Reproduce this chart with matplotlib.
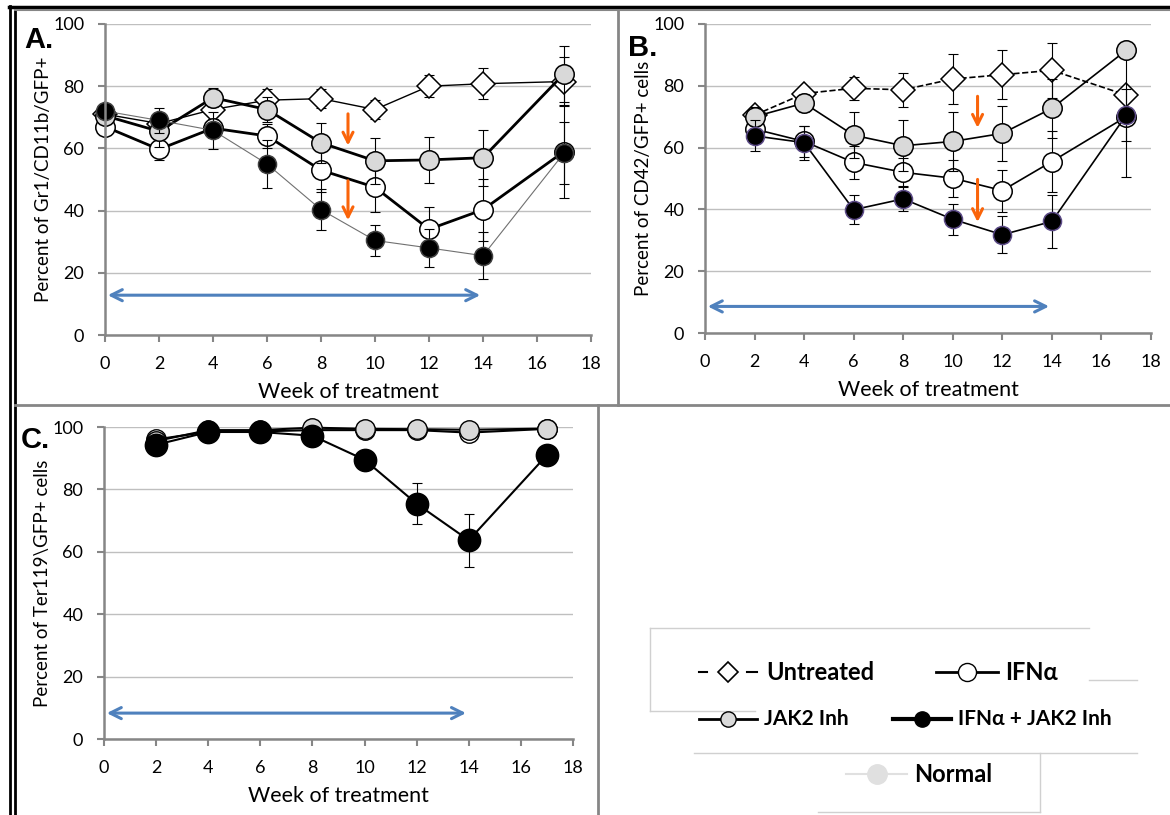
import matplotlib
matplotlib.use('Agg')
import matplotlib.pyplot as plt
from matplotlib.lines import Line2D

plt.rcParams['font.family'] = ['Lato', 'DejaVu Sans']

# ---- data ----
weeks_a = [0, 2, 4, 6, 8, 10, 12, 14, 17]
a_untreated = [71, 68, 72.5, 75.5, 76, 72.5, 80, 80.8, 81.5]
a_untreated_err = [2, 3, 3, 3.5, 3, 3, 3.5, 5, 8]
a_ifn = [67, 59.7, 66.5, 64, 53, 47.5, 34, 40.3, 59]
a_ifn_err = [2, 3.5, 3, 4, 7, 8, 7, 10, 15]
a_jak = [70.5, 65.5, 76.3, 72.5, 61.8, 56, 56.3, 57, 84]
a_jak_err = [2, 5, 3, 4, 6.5, 7.5, 7.5, 9, 9]
a_combo = [72, 69, 65.8, 55, 40.3, 30.4, 28, 25.5, 58.5]
a_combo_err = [2, 4, 6, 7.6, 6.6, 5, 6, 7.5, 10]

weeks_b = [2, 4, 6, 8, 10, 12, 14, 17]
b_untreated = [70.5, 77.5, 79.2, 78.7, 82.2, 83.6, 85, 77]
b_untreated_err = [2, 2, 3.8, 5.5, 8, 8, 9, 2]
b_ifn = [66, 62, 55.2, 52, 50.1, 46.1, 55.5, 70]
b_ifn_err = [3, 5, 5.4, 4.5, 6, 6.8, 10, 19.5]
b_jak = [70, 74.4, 64, 60.6, 62, 64.6, 72.7, 91.5]
b_jak_err = [3, 3, 7.5, 8.2, 9.5, 9, 9.5, 2]
b_combo = [63.8, 61.6, 39.9, 43.4, 36.8, 31.8, 36.1, 70.5]
b_combo_err = [5, 5.5, 4.6, 4, 5, 6, 8.5, 8.4]

weeks_c = [2, 4, 6, 8, 10, 12, 14, 17]
c_ifn = [96, 98.5, 98.6, 99, 99, 99, 98.2, 99.4]
c_jak = [95.5, 99, 99, 99.8, 99.4, 99.3, 99.1, 99.5]
c_combo = [94.3, 98.4, 98.4, 97.2, 89.5, 75.4, 63.7, 91]
c_combo_err = [1, 1, 1, 1, 1.5, 6.5, 8.5, 3]

W, H = 1170, 815
fig = plt.figure(figsize=(W / 100, H / 100), dpi=100)

# overlay in pixel coordinates for frames, labels and legend
ov = fig.add_axes([0, 0, 1, 1], zorder=-1)
ov.set_xlim(0, W)
ov.set_ylim(H, 0)
ov.axis('off')


def px_axes(x0, x1, y_top, y_bot):
    return fig.add_axes([x0 / W, 1 - y_bot / H, (x1 - x0) / W, (y_bot - y_top) / H])


def style(ax, ylabel):
    ax.set_xlim(0, 18)
    ax.set_ylim(0, 100)
    ax.set_xticks(range(0, 19, 2))
    ax.set_yticks(range(0, 101, 20))
    for s in ['top', 'right']:
        ax.spines[s].set_visible(False)
    for s in ['left', 'bottom']:
        ax.spines[s].set_color('#868686')
        ax.spines[s].set_linewidth(1.8)
    ax.tick_params(colors='#868686', labelcolor='black', length=5, width=1.5,
                   labelsize=13, direction='out')
    ax.tick_params(axis='x', pad=10)
    ax.tick_params(axis='y', pad=10)
    ax.grid(axis='y', color='#bfbfbf', lw=1)
    ax.set_axisbelow(True)
    ax.set_xlabel('Week of treatment', fontsize=15.5, labelpad=7)
    ax.set_ylabel(ylabel, fontsize=13.5, labelpad=1)


def series(ax, x, y, err, marker, fc, ms, lw, color='black', ls='-', mec='black'):
    ax.errorbar(x, y, yerr=err, fmt='none', ecolor='black', elinewidth=0.8,
                capsize=3.5, capthick=0.8, clip_on=False)
    ax.plot(x, y, ls=ls, color=color, lw=lw, marker=marker, ms=ms, mfc=fc,
            mec=mec, mew=1.1, clip_on=False)


def arrows(ax, x, spans, y_blue):
    ax.annotate('', xy=(0, y_blue), xytext=(14, y_blue),
                arrowprops=dict(arrowstyle='<->', color='#4f81bd', lw=2.2,
                                mutation_scale=20))
    for y0, y1 in spans:
        ax.annotate('', xy=(x, y1), xytext=(x, y0),
                    arrowprops=dict(arrowstyle='->', color='#fa640a', lw=2.2,
                                    mutation_scale=18))


# ---- panel A ----
axA = px_axes(105, 591, 24, 335)
style(axA, 'Percent of Gr1/CD11b/GFP+')
series(axA, weeks_a, a_untreated, a_untreated_err, 'D', 'white', 12, 1.0)
series(axA, weeks_a, a_ifn, a_ifn_err, 'o', 'white', 14, 2.0)
series(axA, weeks_a, a_jak, a_jak_err, 'o', '#d9d9d9', 14, 2.0)
series(axA, weeks_a, a_combo, a_combo_err, 'o', 'black', 13, 0.8, color='#707070', mec='#404040')
arrows(axA, 9, [(72, 60), (50.5, 36)], 12.8)

# ---- panel B ----
axB = px_axes(705, 1151, 24, 333)
style(axB, 'Percent of CD42/GFP+ cells')
series(axB, weeks_b, b_untreated, b_untreated_err, 'D', 'white', 12, 1.2, ls='--')
series(axB, weeks_b, b_ifn, b_ifn_err, 'o', 'white', 14, 1.2)
series(axB, weeks_b, b_jak, b_jak_err, 'o', '#d9d9d9', 14, 1.2)
series(axB, weeks_b, b_combo, b_combo_err, 'o', 'black', 13, 1.2, mec='#5b4a86')
arrows(axB, 11, [(77.5, 65.5), (50.6, 35)], 8.6)

# ---- panel C ----
axC = px_axes(104, 573, 427, 739)
style(axC, 'Percent of Ter119\\GFP+ cells')
axC.plot(weeks_c, c_ifn, '-o', color='black', lw=1.5, ms=14, mfc='white', mec='black', clip_on=False)
axC.plot(weeks_c, c_jak, '-o', color='black', lw=1.5, ms=14, mfc='#d9d9d9', mec='black', clip_on=False)
series(axC, weeks_c, c_combo, c_combo_err, 'o', 'black', 16, 1.5)
arrows(axC, 0, [], 8.3)

# ---- frames ----
frame = '#868686'
ov.add_line(Line2D([9, W], [7, 7], color='black', lw=2.5))
ov.add_line(Line2D([9.5, 9.5], [6, H], color='black', lw=2))
ov.add_line(Line2D([14.5, 14.5], [9, H], color='black', lw=2))
ov.add_line(Line2D([15, W], [10, 10], color=frame, lw=1.5))
ov.add_line(Line2D([618, 618], [10, 405], color=frame, lw=2))
ov.add_line(Line2D([15, W], [405, 405], color=frame, lw=2))
ov.add_line(Line2D([598, 598], [405, H], color=frame, lw=2))

# panel labels
for lbl, x, y in [('A.', 24, 48), ('B.', 628, 56), ('C.', 21, 448)]:
    ov.text(x, y, lbl, fontsize=21, fontweight='bold', family='Liberation Sans',
            va='baseline', ha='left')

# ---- legend ----
box = '#d0d0d0'
ov.add_line(Line2D([650, 650], [628, 711], color=box, lw=1))
ov.add_line(Line2D([650, 1089], [628, 628], color=box, lw=1))
ov.add_line(Line2D([650, 755], [711, 711], color=box, lw=1))
ov.add_line(Line2D([1089, 1137], [680, 680], color=box, lw=1))
ov.add_line(Line2D([694, 1137], [753, 753], color=box, lw=1))
ov.add_line(Line2D([1040, 1040], [753, 812], color=box, lw=1))
ov.add_line(Line2D([818, 1040], [812, 812], color=box, lw=1))

# untreated entry: short dashes either side of the diamond
ov.plot([699, 707], [672, 672], color='black', lw=1.5)
ov.plot([747, 757], [672, 672], color='black', lw=1.5)
ov.plot([728], [672], marker='D', ms=10, mfc='white', mec='black', mew=1.2)
ov.text(766, 672, 'Untreated', fontsize=17, fontweight='bold', va='center', ha='left')

legend_items = [
    ('IFNα', 936, 998, 672, dict(ls='-', marker='o', mfc='white', ms=13, lw=2, color='black'), 17),
    ('JAK2 Inh', 699, 757, 719, dict(ls='-', marker='o', mfc='#d9d9d9', ms=11, lw=2, color='black'), 15),
    ('IFNα + JAK2 Inh', 893, 951, 719, dict(ls='-', marker='o', mfc='black', ms=11, lw=3, color='black'), 15),
    ('Normal', 846, 907, 774, dict(ls='-', marker='o', mfc='#e0e0e0', mec='#e0e0e0', ms=14, lw=1.5, color='#e0e0e0'), 17),
]
for text, x0, x1, y, kw, fs in legend_items:
    kw.setdefault('mec', 'black')
    ov.plot([x0, (x0 + x1) / 2, x1], [y, y, y], markevery=[1], **kw)
    ov.text(x1 + 7, y, text, fontsize=fs, fontweight='bold', va='center', ha='left')

fig.savefig('out.png', dpi=100)
